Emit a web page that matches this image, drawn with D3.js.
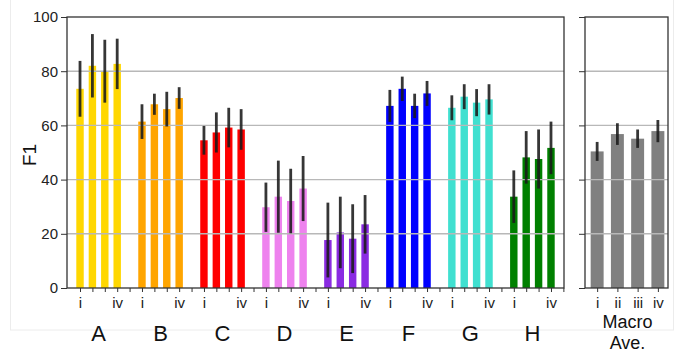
<!DOCTYPE html>
<html><head><meta charset="utf-8">
<script src="https://cdn.jsdelivr.net/npm/d3@7"></script>
<style>html,body{margin:0;padding:0;background:#fff;}svg{display:block;font-family:"Liberation Sans",Arial,sans-serif;}</style>
</head><body>
<svg id="c" width="676" height="352"></svg>
<script>
const groups = ["A","B","C","D","E","F","G","H"];
const variants = ["i","ii","iii","iv"];
const f1Means = [
  [73.5, 82.0, 80.0, 82.7],
  [61.4, 67.8, 66.0, 70.1],
  [54.5, 57.4, 59.2, 58.5],
  [29.8, 33.7, 32.1, 36.7],
  [17.7, 20.5, 18.2, 23.5],
  [67.2, 73.5, 67.2, 71.8],
  [66.5, 70.6, 68.4, 69.6],
  [33.7, 48.2, 47.6, 51.7]
];
const f1Errors = [
  [10.3, 11.7, 11.6, 9.3],
  [6.4, 3.9, 6.4, 4.0],
  [5.3, 7.4, 7.3, 7.5],
  [9.1, 13.3, 11.9, 12.0],
  [13.8, 13.2, 12.7, 10.8],
  [5.9, 4.5, 4.5, 4.6],
  [4.6, 4.6, 5.0, 5.6],
  [9.7, 9.7, 10.9, 9.7]
];
const macroLabelLines = ["Macro","Ave."];
const macroMeans = [50.4, 56.8, 55.1, 57.9];
const macroErrors = [3.5, 4.0, 3.4, 4.1];
const yTicks = [0, 20, 40, 60, 80, 100];
const groupColors = ["#FFD700","#FFA500","#FF0000","#EE82EE","#8A2BE2","#0000FF","#40E0D0","#008000"];
const macroColor = "#808080";

const svg = d3.select("#c");
// faint figure frame
svg.append("rect").attr("x",10.5).attr("y",-2).attr("width",663).attr("height",332)
  .attr("fill","none").attr("stroke","#ececec").attr("stroke-width",1);

const y = d3.scaleLinear().domain([0,100]).range([288,17]);
const slotsPerGroup = variants.length + 1;
const nSlots = groups.length * slotsPerGroup;
const xL = d3.scaleLinear().domain([-1.05, nSlots - 0.95]).range([67,564]);
const xR = d3.scaleLinear().domain([-0.6, 3.5]).range([585,668]);
const slotW = xL(1) - xL(0);
const slotWR = xR(1) - xR(0);

function panel(x0, x1, xs, bars, bw, tickVals, tickFmt, showYLabels) {
  const g = svg.append("g");
  // bars
  g.selectAll("rect.bar").data(bars).join("rect")
    .attr("x", d => xs(d.pos) - bw/2).attr("width", bw)
    .attr("y", d => y(d.v)).attr("height", d => y(0) - y(d.v))
    .attr("fill", d => d.c);
  // grid on top
  g.selectAll("line.grid").data(yTicks.filter(t => t>0 && t<100)).join("line")
    .attr("x1", x0).attr("x2", x1).attr("y1", d => y(d)).attr("y2", d => y(d))
    .attr("stroke", "#b8b8b8").attr("stroke-width", 1.4);
  // error bars
  g.selectAll("line.err").data(bars).join("line")
    .attr("x1", d => xs(d.pos)).attr("x2", d => xs(d.pos))
    .attr("y1", d => y(d.v + d.e)).attr("y2", d => y(d.v - d.e))
    .attr("stroke", "#1a1a1a").attr("stroke-opacity", 0.88).attr("stroke-width", 2.8);
  // y axis
  const ya = d3.axisLeft(y).tickValues(yTicks).tickSize(6).tickPadding(3)
    .tickFormat(showYLabels ? d3.format("d") : () => "");
  const yg = g.append("g").attr("transform", `translate(${x0},0)`).call(ya);
  yg.select(".domain").remove();
  yg.selectAll("line").attr("stroke","#333").attr("stroke-width",1);
  yg.selectAll("text").attr("font-size", 15).attr("fill","#222").attr("font-family","Liberation Sans, Arial, sans-serif");
  // x axis
  const xa = d3.axisBottom(xs).tickValues(tickVals).tickSize(4).tickPadding(5).tickFormat(tickFmt);
  const xg = g.append("g").attr("transform", `translate(0,${y(0)})`).call(xa);
  xg.select(".domain").remove();
  xg.selectAll("line").attr("stroke","#333").attr("stroke-width",1);
  xg.selectAll("text").attr("font-size", 15).attr("fill","#222").attr("font-family","Liberation Sans, Arial, sans-serif");
  // frame
  g.append("rect").attr("x", x0).attr("y", y(100)).attr("width", x1 - x0).attr("height", y(0) - y(100))
    .attr("fill","none").attr("stroke","#333").attr("stroke-width",1.3);
}

const leftBars = [];
groups.forEach((gname, gi) => variants.forEach((vname, vi) => {
  leftBars.push({pos: gi*slotsPerGroup + vi, v: f1Means[gi][vi], e: f1Errors[gi][vi], c: groupColors[gi]});
}));
panel(67, 564, xL, leftBars, slotW*0.6, d3.range(nSlots),
  d => { const k = d % slotsPerGroup; return k === 0 ? variants[0] : (k === variants.length-1 ? variants[variants.length-1] : ""); }, true);

const rightBars = macroMeans.map((v,i) => ({pos: i, v: v, e: macroErrors[i], c: macroColor}));
panel(585, 668, xR, rightBars, slotWR*0.64, d3.range(variants.length), d => variants[d], false);

// group labels
svg.append("g").selectAll("text").data(groups).join("text")
  .attr("x", (d,i) => xL(i*slotsPerGroup + (variants.length-1)/2))
  .attr("y", 341).attr("text-anchor","middle").attr("font-size", 22).attr("fill","#111").text(d => d);
svg.append("g").selectAll("text").data(macroLabelLines).join("text")
  .attr("x", xR(1.5)).attr("y", (d,i) => 328 + i*21).attr("text-anchor","middle")
  .attr("font-size", 18).attr("fill","#111").text(d => d);

// y label
svg.append("text").attr("transform","translate(36,155) rotate(-90)").attr("text-anchor","middle")
  .attr("font-size", 19).attr("fill","#111").text("F1");
</script>
</body></html>
